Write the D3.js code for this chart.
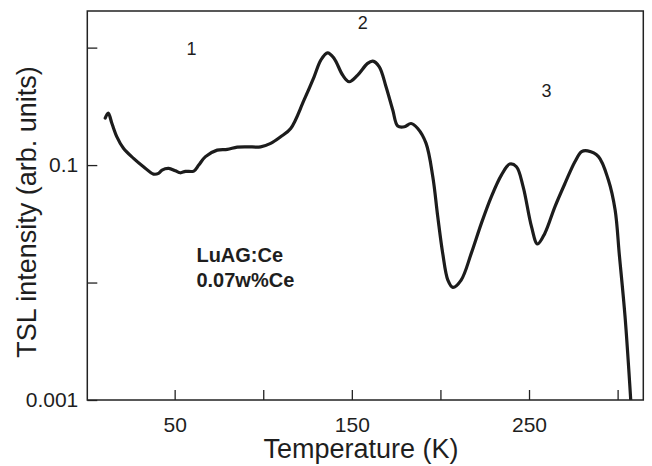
<!DOCTYPE html>
<html lang="en">
  <head>
    <meta charset="UTF-8" />
    <title>TSL LuAG:Ce</title>
    <style type="text/css">
      body { margin: 0; background: #fff; }
      text { font-family: 'Liberation Sans', Arial, Helvetica, sans-serif; fill: #1e1e1e; }
    </style>
  </head>
  <script src="https://d3js.org/d3.v7.min.js"></script>
  <body>
    <div class="d3Chart"></div>
  </body>
  <script type="text/javascript">
    // glow curve: temperature (K) and TSL intensity
    var temperature = [10.8, 12.5, 14.6, 17.4, 21.1, 26.8, 32.4, 38.1, 40.9, 42.9, 46.6, 50.4, 53.2, 56.1, 60.8, 63.6,
      67.4, 74.0, 79.7, 85.3, 91.0, 98.5, 104.2, 109.8, 115.5, 123.0, 128.7, 132.5, 136.3, 140.0, 144.8, 148.5,
      153.3, 158.9, 161.8, 165.5, 169.3, 173.1, 175.9, 179.7, 183.4, 187.2, 191.9, 195.7, 198.5, 201.3, 204.2,
      207.0, 211.7, 217.4, 223.1, 228.7, 234.4, 239.1, 242.9, 246.7, 251.4, 254.8, 258.9, 264.6, 270.3, 275.9,
      279.7, 283.1, 289.2, 294.8, 298.6, 301.0, 304.2, 307.6]
    var intensity = [0.251, 0.277, 0.226, 0.174, 0.139, 0.114, 0.0968, 0.0838, 0.085, 0.0907, 0.0937, 0.0894, 0.086,
      0.0884, 0.0889, 0.1, 0.118, 0.134, 0.136, 0.142, 0.143, 0.143, 0.153, 0.174, 0.205, 0.357, 0.564, 0.783,
      0.903, 0.809, 0.584, 0.512, 0.584, 0.734, 0.768, 0.687, 0.464, 0.294, 0.215, 0.212, 0.226, 0.205, 0.153,
      0.0795, 0.0363, 0.0177, 0.0105, 0.0091, 0.0105, 0.0177, 0.0319, 0.0537, 0.0822, 0.102, 0.0968, 0.0653,
      0.0299, 0.0213, 0.0262, 0.0441, 0.0698, 0.1067, 0.13, 0.132, 0.118, 0.0745, 0.0414, 0.017, 0.00512, 0.0009]

    var xTicks = [50, 100, 150, 200, 250, 300]
    var xLabels = [50, 150, 250]
    var yTicks = [0.001, 0.01, 0.1, 1]
    var yLabels = ['0.001', '0.1']

    // peak numbers and sample note (anchored in data units)
    var peakNames = ['1', '2', '3']
    var peakT = [59.5, 156.1, 259.9]
    var peakI = [0.863, 1.44, 0.379]
    var sampleLines = ['LuAG:Ce', '0.07w%Ce']
    var sampleI = [0.0149, 0.00916]

    var width = 652
    var height = 466
    var plotL = 87.3
    var plotR = 643.3
    var plotT = 11
    var plotB = 400

    var svg = d3.select('.d3Chart').append('svg').attr('width', width).attr('height', height)

    var x = d3.scaleLinear().domain([0.7, 314.5]).range([plotL, plotR])
    var y = d3.scaleLog().domain([0.001, 2.05]).range([plotB, plotT])

    // clip so the tail that dives under 0.001 stops on the axis
    svg.append('clipPath').attr('id', 'plotClip')
      .append('rect').attr('x', plotL).attr('y', plotT).attr('width', plotR - plotL).attr('height', plotB - plotT)

    var pts = temperature.map((t, i) => [t, intensity[i]])
    var line = d3.line()
      .x((d) => x(d[0]))
      .y((d) => y(d[1]))
      .curve(d3.curveCatmullRom.alpha(0.5))

    svg.append('path')
      .datum(pts)
      .attr('clip-path', 'url(#plotClip)')
      .attr('fill', 'none')
      .attr('stroke', '#1c1c1c')
      .attr('stroke-width', 3.2)
      .attr('stroke-linejoin', 'round')
      .attr('stroke-linecap', 'round')
      .attr('d', line)

    // axes, ticks pointing inward
    var xAxis = d3.axisBottom(x)
      .tickValues(xTicks)
      .tickSize(-10)
      .tickPadding(17)
      .tickFormat((d) => (xLabels.indexOf(d) >= 0 ? d : ''))
    var gx = svg.append('g').attr('transform', 'translate(0,' + plotB + ')').call(xAxis)

    var yAxis = d3.axisLeft(y)
      .tickValues(yTicks)
      .tickSize(-10)
      .tickPadding(9)
      .tickFormat((d) => {
        var s = d >= 0.1 ? d3.format('.1f')(d) : d3.format('.3f')(d)
        return yLabels.indexOf(s) >= 0 ? s : ''
      })
    var gy = svg.append('g').attr('transform', 'translate(' + plotL + ',0)').call(yAxis)

    ;[gx, gy].forEach((g) => {
      g.attr('font-size', 21).attr('font-family', null)
      g.select('.domain').remove()
      g.selectAll('.tick line').attr('stroke', '#222').attr('stroke-width', 1.3)
      g.selectAll('.tick text').style('fill', '#1e1e1e')
    })

    // frame
    svg.append('rect')
      .attr('x', plotL)
      .attr('y', plotT)
      .attr('width', plotR - plotL)
      .attr('height', plotB - plotT)
      .attr('fill', 'none')
      .attr('stroke', '#222')
      .attr('stroke-width', 1.5)

    // axis titles
    svg.append('text')
      .attr('x', 361)
      .attr('y', 458)
      .attr('text-anchor', 'middle')
      .attr('font-size', 27)
      .text('Temperature (K)')

    svg.append('text')
      .attr('transform', 'translate(36,212) rotate(-90)')
      .attr('text-anchor', 'middle')
      .attr('font-size', 27)
      .text('TSL intensity (arb. units)')

    // peak numbers
    svg.selectAll('.peak')
      .data(peakNames)
      .enter()
      .append('text')
      .attr('class', 'peak')
      .attr('x', (d, i) => x(peakT[i]))
      .attr('y', (d, i) => y(peakI[i]))
      .attr('text-anchor', 'middle')
      .attr('font-size', 18)
      .text((d) => d)

    // sample note
    svg.selectAll('.sample')
      .data(sampleLines)
      .enter()
      .append('text')
      .attr('class', 'sample')
      .attr('x', x(62.3))
      .attr('y', (d, i) => y(sampleI[i]))
      .attr('font-size', 20)
      .attr('font-weight', 'bold')
      .text((d) => d)
  </script>
</html>
